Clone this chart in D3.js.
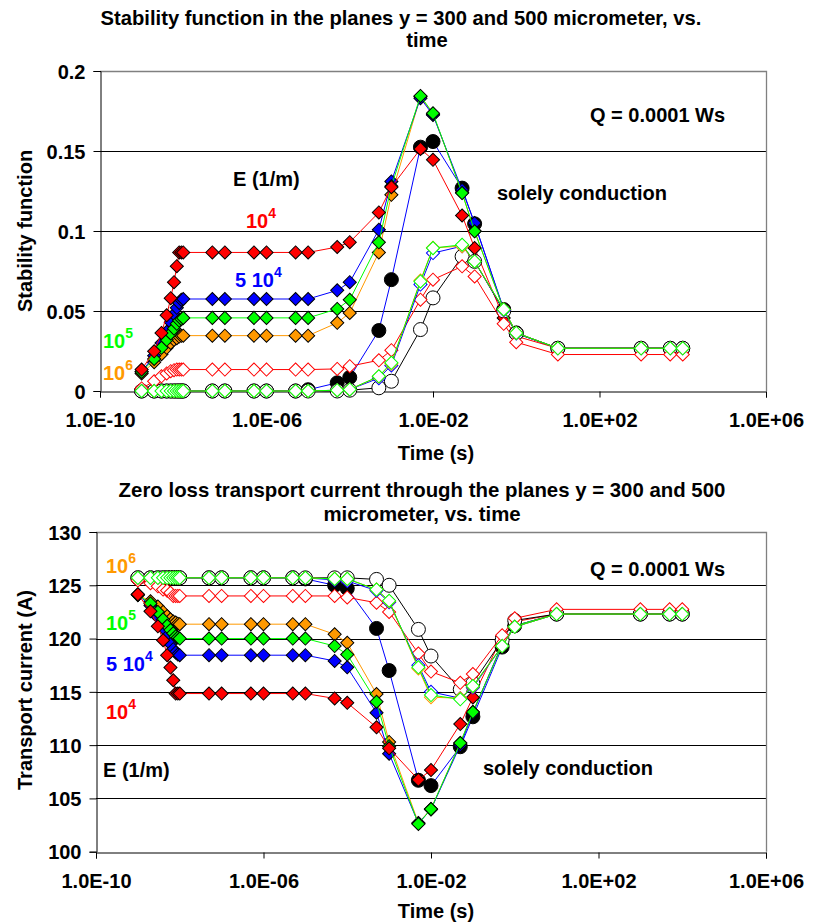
<!DOCTYPE html>
<html>
<head>
<meta charset="utf-8">
<script src="https://cdn.jsdelivr.net/npm/d3@7/dist/d3.min.js"></script>
<style>
  body { margin: 0; background: #fff; }
  svg text { font-family: "Liberation Sans", Arial, sans-serif; font-weight: bold; }
</style>
</head>
<body>
<div id="grafica"></div>
<script>
// tiempos (s)
const tiempos = [1e-9, 2e-9, 3e-9, 4e-9, 5e-9, 6e-9, 7e-9, 8e-9, 9e-9, 1e-8,
  5e-8, 1e-7, 5e-7, 1e-6, 5e-6, 1e-5, 5e-5, 1e-4, 5e-4, 1e-3,
  5e-3, 1e-2, 5e-2, 1e-1, 5e-1, 1, 10, 1e3, 5e3, 1e4]

const xTicks = [1e-10, 1e-6, 1e-2, 1e2, 1e6]
const estabTicks = [0, 0.05, 0.1, 0.15, 0.2]
const corrTicks = [100, 105, 110, 115, 120, 125, 130]

// funcion de estabilidad, plano y = 300 (lleno)
const estab300_E1e4 = [0.0134, 0.0248, 0.0363, 0.0473, 0.0580, 0.0680, 0.0780, 0.0866, 0.0866, 0.0866,
  0.0866, 0.0866, 0.0866, 0.0866, 0.0866, 0.0866, 0.0900, 0.0930, 0.1116, 0.1274,
  0.1513, 0.1445, 0.1097, 0.0893, 0.0457, 0.0342, 0.0267, 0.0267, 0.0267, 0.0267]
const estab300_E5e4 = [0.0120, 0.0220, 0.0300, 0.0370, 0.0430, 0.0480, 0.0520, 0.0550, 0.0570, 0.0575,
  0.0575, 0.0575, 0.0575, 0.0575, 0.0575, 0.0575, 0.0629, 0.0680, 0.1008, 0.1310,
  0.1830, 0.1725, 0.1257, 0.1050, 0.0509, 0.0363, 0.0267, 0.0267, 0.0267, 0.0267]
const estab300_E1e5 = [0.0120, 0.0200, 0.0270, 0.0320, 0.0360, 0.0390, 0.0420, 0.0440, 0.0450, 0.0457,
  0.0457, 0.0457, 0.0457, 0.0457, 0.0457, 0.0457, 0.0513, 0.0570, 0.0929, 0.1280,
  0.1844, 0.1736, 0.1237, 0.0998, 0.0510, 0.0363, 0.0267, 0.0267, 0.0267, 0.0267]
const estab300_E1e6 = [0.0110, 0.0180, 0.0230, 0.0270, 0.0300, 0.0320, 0.0330, 0.0340, 0.0345, 0.0346,
  0.0346, 0.0346, 0.0346, 0.0346, 0.0346, 0.0346, 0.0426, 0.0488, 0.0866, 0.1226,
  0.1840, 0.1730, 0.1240, 0.1000, 0.0510, 0.0363, 0.0267, 0.0267, 0.0267, 0.0267]
const estab300_cond = [0, 0, 0, 0, 0, 0, 0, 0, 0, 0,
  0, 0, 0, 0, 0, 0.0008, 0.0051, 0.0085, 0.0378, 0.0696,
  0.1524, 0.1559, 0.1268, 0.1045, 0.0509, 0.0363, 0.0267, 0.0267, 0.0267, 0.0267]
// plano y = 500 (vacio)
const estab500_E1e4 = [0.0016, 0.0061, 0.0092, 0.0110, 0.0124, 0.0130, 0.0134, 0.0134, 0.0134, 0.0134,
  0.0134, 0.0134, 0.0134, 0.0134, 0.0134, 0.0134, 0.0138, 0.0155, 0.0192, 0.0255,
  0.0571, 0.0696, 0.0779, 0.0716, 0.0420, 0.0305, 0.0228, 0.0228, 0.0228, 0.0228]
const estab500_E5e4 = [0, 0, 0, 0, 0, 0, 0, 0, 0, 0,
  0, 0, 0, 0, 0, 0, 0.0005, 0.0010, 0.0080, 0.0160,
  0.0665, 0.0862, 0.0905, 0.0810, 0.0505, 0.0360, 0.0267, 0.0267, 0.0267, 0.0267]
const estab500_E1e5 = [0, 0, 0, 0, 0, 0, 0, 0, 0, 0,
  0, 0, 0, 0, 0, 0, 0.0005, 0.0010, 0.0092, 0.0176,
  0.0685, 0.0893, 0.0914, 0.0810, 0.0510, 0.0363, 0.0267, 0.0267, 0.0267, 0.0267]
const estab500_E1e6 = [0, 0, 0, 0, 0, 0, 0, 0, 0, 0,
  0, 0, 0, 0, 0, 0, 0.0005, 0.0010, 0.0090, 0.0170,
  0.0690, 0.0895, 0.0905, 0.0810, 0.0510, 0.0363, 0.0267, 0.0267, 0.0267, 0.0267]
const estab500_cond = [0, 0, 0, 0, 0, 0, 0, 0, 0, 0,
  0, 0, 0, 0, 0, 0, 0, 0.0005, 0.0020, 0.0061,
  0.0384, 0.0582, 0.0841, 0.0810, 0.0500, 0.0360, 0.0267, 0.0267, 0.0267, 0.0267]

// corriente de transporte (A), plano y = 300
const corr300_E1e4 = [124.15, 122.56, 121.15, 119.84, 118.44, 117.28, 116.09, 114.84, 114.84, 114.84,
  114.84, 114.84, 114.84, 114.84, 114.84, 114.84, 114.38, 113.97, 111.67, 109.70,
  106.75, 107.66, 111.98, 114.48, 120.17, 121.58, 122.30, 122.30, 122.30, 122.30]
const corr300_E5e4 = [124.10, 123.10, 122.00, 121.00, 120.20, 119.50, 119.00, 118.70, 118.50, 118.44,
  118.44, 118.44, 118.44, 118.44, 118.44, 118.44, 117.90, 117.30, 113.04, 109.20,
  102.66, 103.97, 110.00, 113.00, 119.50, 121.20, 122.30, 122.30, 122.30, 122.30]
const corr300_E1e5 = [124.10, 123.30, 122.50, 121.80, 121.20, 120.80, 120.50, 120.20, 120.10, 120.00,
  120.00, 120.00, 120.00, 120.00, 120.00, 120.00, 119.30, 118.50, 114.07, 109.90,
  102.60, 104.00, 110.20, 113.10, 119.40, 121.20, 122.30, 122.30, 122.30, 122.30]
const corr300_E1e6 = [124.10, 123.50, 123.00, 122.50, 122.10, 121.80, 121.60, 121.50, 121.40, 121.35,
  121.35, 121.35, 121.35, 121.35, 121.35, 121.35, 120.40, 119.60, 114.80, 110.30,
  102.70, 104.00, 110.20, 113.10, 119.40, 121.20, 122.30, 122.30, 122.30, 122.30]
const corr300_cond = [125.70, 125.70, 125.70, 125.70, 125.70, 125.70, 125.70, 125.70, 125.70, 125.70,
  125.70, 125.70, 125.70, 125.70, 125.70, 125.60, 125.00, 124.70, 120.95, 117.00,
  106.70, 106.20, 109.85, 112.66, 119.20, 121.20, 122.30, 122.30, 122.30, 122.30]
// plano y = 500
const corr500_E1e4 = [125.46, 125.20, 124.90, 124.60, 124.50, 124.30, 124.00, 124.00, 124.00, 124.00,
  124.00, 124.00, 124.00, 124.00, 124.00, 124.00, 124.00, 123.86, 123.36, 122.50,
  118.60, 116.90, 115.85, 116.67, 120.30, 121.90, 122.74, 122.74, 122.74, 122.74]
const corr500_E5e4 = [125.70, 125.70, 125.70, 125.70, 125.70, 125.70, 125.70, 125.70, 125.70, 125.70,
  125.70, 125.70, 125.70, 125.70, 125.70, 125.70, 125.50, 125.40, 124.50, 123.40,
  117.50, 115.00, 114.40, 115.40, 119.30, 121.10, 122.30, 122.30, 122.30, 122.30]
const corr500_E1e5 = [125.70, 125.70, 125.70, 125.70, 125.70, 125.70, 125.70, 125.70, 125.70, 125.70,
  125.70, 125.70, 125.70, 125.70, 125.70, 125.70, 125.60, 125.60, 124.60, 123.55,
  117.30, 114.70, 114.30, 115.55, 119.30, 121.10, 122.30, 122.30, 122.30, 122.30]
const corr500_E1e6 = [125.70, 125.70, 125.70, 125.70, 125.70, 125.70, 125.70, 125.70, 125.70, 125.70,
  125.70, 125.70, 125.70, 125.70, 125.70, 125.70, 125.60, 125.60, 124.60, 123.50,
  117.20, 114.50, 114.40, 115.50, 119.30, 121.10, 122.30, 122.30, 122.30, 122.30]
const corr500_cond = [125.70, 125.70, 125.70, 125.70, 125.70, 125.70, 125.70, 125.70, 125.70, 125.70,
  125.70, 125.70, 125.70, 125.70, 125.70, 125.70, 125.70, 125.70, 125.55, 125.00,
  120.86, 118.36, 115.23, 115.80, 119.85, 121.70, 122.30, 122.30, 122.30, 122.30]

const rojo = "#ff0000", azul = "#0000ff", verde = "#00ff00", naranja = "#ff9900"

// orden de dibujo (el ultimo queda encima)
const seriesEstab = [
  { datos: estab300_cond, linea: azul, marca: "circulo", lleno: true },
  { datos: estab300_E1e6, linea: naranja, marca: "rombo", lleno: true },
  { datos: estab300_E5e4, linea: azul, marca: "rombo", lleno: true },
  { datos: estab300_E1e5, linea: verde, marca: "rombo", lleno: true },
  { datos: estab300_E1e4, linea: rojo, marca: "rombo", lleno: true },
  { datos: estab500_cond, linea: "#000", marca: "circulo", lleno: false },
  { datos: estab500_E1e4, linea: rojo, marca: "rombo", lleno: false },
  { datos: estab500_E5e4, linea: azul, marca: "rombo", lleno: false },
  { datos: estab500_E1e6, linea: naranja, marca: "rombo", lleno: false },
  { datos: estab500_E1e5, linea: verde, marca: "rombo", lleno: false }
]
const seriesCorr = [
  { datos: corr300_cond, linea: azul, marca: "circulo", lleno: true },
  { datos: corr300_E1e6, linea: naranja, marca: "rombo", lleno: true },
  { datos: corr300_E5e4, linea: azul, marca: "rombo", lleno: true },
  { datos: corr300_E1e5, linea: verde, marca: "rombo", lleno: true },
  { datos: corr300_E1e4, linea: rojo, marca: "rombo", lleno: true },
  { datos: corr500_cond, linea: "#000", marca: "circulo", lleno: false },
  { datos: corr500_E1e4, linea: rojo, marca: "rombo", lleno: false },
  { datos: corr500_E5e4, linea: azul, marca: "rombo", lleno: false },
  { datos: corr500_E1e6, linea: naranja, marca: "rombo", lleno: false },
  { datos: corr500_E1e5, linea: verde, marca: "rombo", lleno: false }
]

const svg = d3.select("#grafica")
  .append("svg")
  .attr("width", 816)
  .attr("height", 923)

const formatoE = (d) => {
  const e = Math.round(Math.log10(d))
  return "1.0E" + (e < 0 ? "-" : "+") + String(Math.abs(e)).padStart(2, "0")
}

const rombo = d3.symbol().type(d3.symbolSquare).size(86)

const dibujarGrafica = (caja, dominioY, ticksY, formatoY, series) => {
  const x = d3.scaleLog().domain([1e-10, 1e6]).range([caja.izq, caja.der])
  const y = d3.scaleLinear().domain(dominioY).range([caja.abajo, caja.arriba])
  const g = svg.append("g")

  // rejilla
  g.selectAll(".rejilla")
    .data(ticksY.slice(1, -1))
    .enter()
    .append("line")
    .attr("x1", caja.izq).attr("x2", caja.der)
    .attr("y1", (d) => Math.round(y(d)) + 0.5).attr("y2", (d) => Math.round(y(d)) + 0.5)
    .attr("stroke", "#000").attr("stroke-width", 1)

  // borde gris del area
  g.append("path")
    .attr("d", `M${caja.izq},${Math.round(caja.arriba) + 0.5}H${caja.der + 0.5}V${caja.abajo}`)
    .attr("fill", "none").attr("stroke", "#808080").attr("stroke-width", 1.3)

  const ejeX = g.append("g")
    .attr("transform", `translate(0, ${Math.round(caja.abajo) + 0.5})`)
    .call(d3.axisBottom(x).tickValues(xTicks).tickFormat(formatoE).tickSize(6).tickPadding(10))
  const ejeY = g.append("g")
    .attr("transform", `translate(${Math.round(caja.izq) + 0.5}, 0)`)
    .call(d3.axisLeft(y).tickValues(ticksY).tickFormat(formatoY).tickSize(7).tickPadding(8))
  ;[ejeX, ejeY].forEach((eje) => {
    eje.selectAll("text").attr("font-size", 20).attr("fill", "#000")
      .attr("font-family", "Liberation Sans, Arial, sans-serif").attr("font-weight", "bold")
    eje.selectAll("line").attr("stroke", "#000")
    eje.select(".domain").attr("stroke", "#000")
  })
  ejeY.selectAll("text").attr("dy", "0.36em")
  ejeX.selectAll("text").attr("dy", "0.95em")

  const linea = d3.line()
    .x((d, i) => x(tiempos[i]))
    .y((d) => y(d))

  series.forEach((s) => {
    const gs = g.append("g")
    gs.append("path")
      .datum(s.datos)
      .attr("d", linea)
      .attr("fill", "none")
      .attr("stroke", s.linea)
      .attr("stroke-width", 1)
    if (s.marca === "circulo") {
      gs.selectAll("circle")
        .data(s.datos)
        .enter()
        .append("circle")
        .attr("cx", (d, i) => x(tiempos[i]))
        .attr("cy", (d) => y(d))
        .attr("r", 7)
        .attr("fill", s.lleno ? "#000" : "#fff")
        .attr("stroke", "#000")
        .attr("stroke-width", 1)
    } else {
      gs.selectAll("path.marca")
        .data(s.datos)
        .enter()
        .append("path")
        .attr("class", "marca")
        .attr("d", rombo)
        .attr("transform", (d, i) => `translate(${x(tiempos[i])}, ${y(d)}) rotate(45)`)
        .attr("fill", s.lleno ? s.linea : "#fff")
        .attr("stroke", s.lleno ? "#000" : s.linea)
        .attr("stroke-width", 1)
    }
  })
  return g
}

const texto = (x, y, t, color, tam, ancla) =>
  svg.append("text")
    .attr("x", x).attr("y", y)
    .attr("fill", color || "#000")
    .attr("font-size", tam || 20)
    .attr("text-anchor", ancla || "start")
    .text(t)

const potencia = (x, y, base, exp, color) => {
  const t = texto(x, y, base, color)
  t.append("tspan").attr("dy", -10).attr("font-size", 14).text(exp)
}

// ---- grafica 1: funcion de estabilidad
dibujarGrafica({ izq: 100, der: 766, arriba: 71, abajo: 391 }, [0, 0.2], estabTicks,
  (d) => String(+d.toFixed(2)), seriesEstab)

texto(401, 25, "Stability function in the planes y = 300 and 500 micrometer, vs.", "#000", 20.2, "middle")
texto(427, 47, "time", "#000", 20.2, "middle")
texto(436, 460, "Time (s)", "#000", 20, "middle")
svg.append("text")
  .attr("transform", "translate(32, 231) rotate(-90)")
  .attr("text-anchor", "middle").attr("font-size", 20)
  .text("Stability function")
texto(590, 122, "Q = 0.0001 Ws")
texto(233, 186, "E (1/m)")
texto(497, 200, "solely conduction")
potencia(246, 228, "10", "4", rojo)
potencia(235, 286.5, "5 10", "4", azul)
potencia(103, 348, "10", "5", verde)
potencia(103, 380, "10", "6", naranja)

// ---- grafica 2: corriente de transporte
dibujarGrafica({ izq: 96, der: 766, arriba: 532, abajo: 851.7 }, [100, 130], corrTicks,
  (d) => String(d), seriesCorr)

texto(422, 497, "Zero loss transport current through the planes y = 300 and 500", "#000", 20.4, "middle")
texto(422, 521, "micrometer, vs. time", "#000", 20.4, "middle")
texto(436, 918, "Time (s)", "#000", 20, "middle")
svg.append("text")
  .attr("transform", "translate(32, 690) rotate(-90)")
  .attr("text-anchor", "middle").attr("font-size", 20)
  .text("Transport current (A)")
texto(590, 576, "Q = 0.0001 Ws")
potencia(106, 573, "10", "6", naranja)
potencia(106, 630, "10", "5", verde)
potencia(106, 670.5, "5 10", "4", azul)
potencia(106, 719, "10", "4", rojo)
texto(103, 777, "E (1/m)")
texto(483, 775, "solely conduction")
</script>
</body>
</html>
